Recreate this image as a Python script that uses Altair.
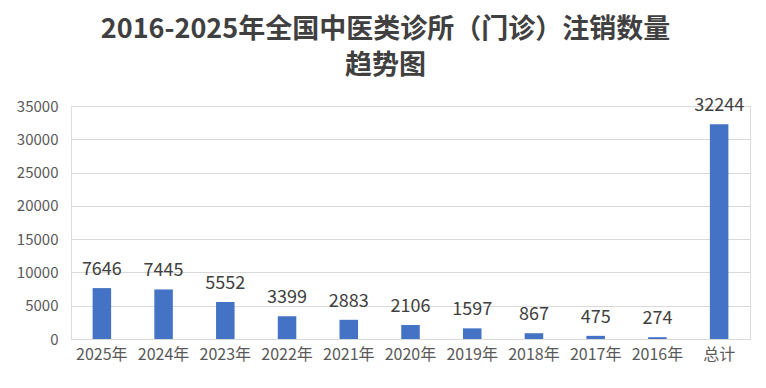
import altair as alt
import pandas as pd

categories = ["2025年", "2024年", "2023年", "2022年", "2021年", "2020年", "2019年", "2018年", "2017年", "2016年", "总计"]
values = [7646, 7445, 5552, 3399, 2883, 2106, 1597, 867, 475, 274, 32244]
y_ticks = [0, 5000, 10000, 15000, 20000, 25000, 30000, 35000]

df = pd.DataFrame({"cat": categories, "val": values})

FONT = "Noto Sans CJK SC"

x = alt.X("cat:N", sort=categories, title=None,
          scale=alt.Scale(paddingInner=0.7, paddingOuter=0.35),
          axis=alt.Axis(labelAngle=0, domain=False, ticks=False, labelFontSize=16,
                        labelColor="#595959", labelFont=FONT, labelPadding=7))
y = alt.Y("val:Q", title=None,
          scale=alt.Scale(domain=[0, 35000], nice=False),
          axis=alt.Axis(values=y_ticks, format="d", labelOverlap=False, domain=False, ticks=False,
                        labelFontSize=15, labelColor="#595959", labelFont=FONT, labelPadding=13,
                        gridColor="#D9D9D9", gridWidth=1))

bars = alt.Chart(df).mark_bar(color="#4472C4").encode(x=x, y=y)
labels = alt.Chart(df).mark_text(baseline="bottom", dy=-9, fontSize=18, color="#404040", font=FONT).encode(
    x=x, y=y, text="val:Q")

chart = (bars + labels).properties(
    width=679, height=233,
    autosize=alt.AutoSizeParams(type="none"),
    padding={"left": 63, "top": 98, "right": 8, "bottom": 40},
    title=alt.TitleParams(["2016-2025年全国中医类诊所（门诊）注销数量", "趋势图"],
                          anchor="middle", frame="group", dx=-25, offset=17,
                          fontSize=27, fontWeight="bold", font=FONT, color="#404040",
                          lineHeight=36),
).configure_view(stroke=None).configure(background="white")

chart.save("out.html", embed_options={"renderer": "svg", "actions": False})
